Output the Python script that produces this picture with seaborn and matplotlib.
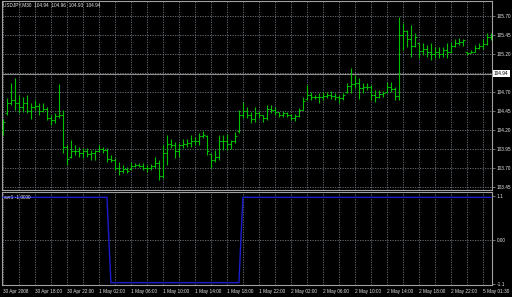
import numpy as np
import pandas as pd
import matplotlib
matplotlib.use("Agg")
import matplotlib.pyplot as plt
import seaborn as sns

# ---------------- data ----------------
highs = [104.35, 104.62, 104.82, 104.88, 104.66, 104.63, 104.66, 104.56, 104.60, 104.56,
         104.56, 104.50, 104.40, 104.42, 104.81, 104.46, 104.00, 104.07, 104.00, 103.98,
         103.96, 103.96, 103.94, 103.94, 104.00, 103.98, 103.96, 103.87, 103.83, 103.78,
         103.74, 103.71, 103.78, 103.77, 103.77, 103.77, 103.74, 103.75, 103.85, 103.81,
         104.00, 104.13, 104.08, 104.04, 104.03, 104.08, 104.08, 104.13, 104.11, 104.16,
         104.19, 104.13, 103.90, 103.94, 104.13, 104.13, 104.15, 104.07, 104.17, 104.46,
         104.57, 104.50, 104.44, 104.50, 104.45, 104.40, 104.53, 104.53, 104.50, 104.44,
         104.45, 104.44, 104.41, 104.41, 104.49, 104.63, 104.79, 104.70, 104.66, 104.69,
         104.70, 104.70, 104.71, 104.69, 104.66, 104.69, 104.82, 105.02, 104.92, 104.88,
         104.82, 104.82, 104.79, 104.73, 104.73, 104.71, 104.83, 104.83, 104.77, 105.69,
         105.61, 105.52, 105.58, 105.48, 105.35, 105.35, 105.32, 105.35, 105.29, 105.29,
         105.29, 105.35, 105.36, 105.40, 105.41, 105.40, 105.23, 105.25, 105.32, 105.35,
         105.40, 105.48, 105.48]
lows = [104.13, 104.40, 104.53, 104.46, 104.42, 104.44, 104.42, 104.35, 104.46, 104.40,
        104.44, 104.33, 104.27, 104.29, 104.36, 103.90, 103.74, 103.83, 103.87, 103.85,
        103.83, 103.85, 103.81, 103.81, 103.91, 103.90, 103.78, 103.78, 103.67, 103.61,
        103.63, 103.63, 103.67, 103.71, 103.71, 103.67, 103.65, 103.67, 103.70, 103.54,
        103.57, 103.74, 103.96, 103.83, 103.85, 103.96, 103.98, 103.98, 104.00, 104.00,
        104.10, 103.87, 103.70, 103.78, 103.81, 103.94, 103.94, 103.95, 104.03, 104.16,
        104.36, 104.36, 104.29, 104.31, 104.36, 104.31, 104.33, 104.42, 104.40, 104.37,
        104.37, 104.37, 104.33, 104.32, 104.37, 104.46, 104.60, 104.60, 104.61, 104.55,
        104.60, 104.62, 104.61, 104.60, 104.55, 104.60, 104.69, 104.69, 104.75, 104.61,
        104.69, 104.73, 104.60, 104.57, 104.62, 104.63, 104.69, 104.70, 104.60, 104.60,
        105.25, 105.29, 105.16, 105.29, 105.15, 105.19, 105.16, 105.12, 105.15, 105.15,
        105.16, 105.15, 105.21, 105.29, 105.32, 105.31, 105.19, 105.21, 105.23, 105.27,
        105.27, 105.32, 105.38]
opens = [104.20, 104.42, 104.55, 104.60, 104.55, 104.50, 104.55, 104.45, 104.50, 104.52,
         104.45, 104.48, 104.36, 104.33, 104.38, 104.40, 103.98, 103.84, 103.92, 103.92,
         103.90, 103.92, 103.88, 103.90, 103.92, 103.95, 103.93, 103.82, 103.80, 103.70,
         103.66, 103.68, 103.68, 103.72, 103.74, 103.73, 103.70, 103.70, 103.72, 103.76,
         103.60, 103.90, 104.02, 104.00, 103.92, 104.00, 104.02, 104.03, 104.05, 104.06,
         104.12, 104.12, 103.89, 103.80, 103.85, 104.05, 104.05, 104.02, 104.05, 104.18,
         104.40, 104.45, 104.40, 104.35, 104.42, 104.40, 104.36, 104.48, 104.46, 104.43,
         104.40, 104.42, 104.40, 104.36, 104.38, 104.46, 104.61, 104.66, 104.64, 104.63,
         104.64, 104.65, 104.66, 104.65, 104.63, 104.62, 104.70, 104.78, 104.80, 104.82,
         104.75, 104.76, 104.77, 104.66, 104.64, 104.67, 104.70, 104.76, 104.74, 104.65,
         105.45, 105.50, 105.40, 105.30, 105.34, 105.24, 105.26, 105.22, 105.20, 105.22,
         105.20, 105.25, 105.22, 105.30, 105.35, 105.36, 105.22, 105.21, 105.23, 105.28,
         105.30, 105.33, 105.42]
closes = [104.30, 104.55, 104.60, 104.55, 104.50, 104.55, 104.45, 104.50, 104.52, 104.45,
          104.48, 104.36, 104.33, 104.38, 104.40, 103.98, 103.82, 103.92, 103.92, 103.90,
          103.92, 103.88, 103.90, 103.92, 103.95, 103.93, 103.82, 103.80, 103.70, 103.66,
          103.68, 103.66, 103.72, 103.74, 103.73, 103.70, 103.70, 103.72, 103.76, 103.60,
          103.90, 104.02, 104.00, 103.92, 104.00, 104.02, 104.03, 104.05, 104.06, 104.12,
          104.14, 103.92, 103.80, 103.85, 104.05, 104.05, 104.02, 104.05, 104.12, 104.40,
          104.45, 104.40, 104.35, 104.42, 104.40, 104.36, 104.48, 104.46, 104.43, 104.40,
          104.42, 104.40, 104.36, 104.38, 104.46, 104.58, 104.66, 104.64, 104.63, 104.64,
          104.65, 104.66, 104.65, 104.63, 104.62, 104.66, 104.78, 104.80, 104.82, 104.75,
          104.76, 104.77, 104.66, 104.64, 104.67, 104.68, 104.76, 104.74, 104.65, 105.45,
          105.50, 105.40, 105.30, 105.42, 105.24, 105.26, 105.22, 105.20, 105.22, 105.20,
          105.25, 105.22, 105.30, 105.35, 105.36, 105.38, 105.21, 105.23, 105.28, 105.30,
          105.33, 105.42, 105.45]
indicator = [1, 1, 1, 1, 1, 1, 1, 1, 1, 1, 1, 1, 1, 1, 1, 1, 1, 1, 1, 1,
             1, 1, 1, 1, 1, 1, 1, -1, -1, -1, -1, -1, -1, -1, -1, -1, -1, -1, -1, -1,
             -1, -1, -1, -1, -1, -1, -1, -1, -1, -1, -1, -1, -1, -1, -1, -1, -1, -1, -1, -1,
             1, 1, 1, 1, 1, 1, 1, 1, 1, 1, 1, 1, 1, 1, 1, 1, 1, 1, 1, 1,
             1, 1, 1, 1, 1, 1, 1, 1, 1, 1, 1, 1, 1, 1, 1, 1, 1, 1, 1, 1,
             1, 1, 1, 1, 1, 1, 1, 1, 1, 1, 1, 1, 1, 1, 1, 1, 1, 1, 1, 1,
             1, 1, 1]

price_ticks = [105.70, 105.45, 105.20, 104.95, 104.70, 104.45, 104.20, 103.95, 103.70, 103.45]
price_tick_labels = ["105.70", "105.45", "105.20", "", "104.70", "104.45", "104.20",
                     "103.95", "103.70", "103.45"]
current_price = 104.94
header = "USDJPY,M30  104.94  104.96  104.93  104.94"
ind_label = "avr1 -1.0000"
ind_tick_labels = ["1.1", "0.00", "-1.1"]
x_label_bars = [0, 8, 16, 24, 32, 40, 48, 56, 64, 72, 80, 88, 96, 104, 112, 120]
x_labels = ["30 Apr 2008", "30 Apr 18:00", "30 Apr 22:00", "1 May 02:00", "1 May 06:00",
            "1 May 10:00", "1 May 14:00", "1 May 18:00", "1 May 22:00", "2 May 02:00",
            "2 May 06:00", "2 May 10:00", "2 May 14:00", "2 May 18:00", "2 May 22:00",
            "5 May 01:30"]

# ---------------- style ----------------
sns.set_theme(style="dark", rc={"axes.facecolor": "black", "figure.facecolor": "black"})
plt.rcParams["font.family"] = ["Liberation Sans", "DejaVu Sans"]

GREEN = "#00c000"
BLUE = "#1c1cd0"
GRID = "#6f7780"
FRAME = "#a0a0a0"
TXT = "#e8e8e8"
FS = 3.4

n = len(highs)
df = pd.DataFrame({"bar": np.arange(n), "high": highs, "low": lows,
                   "open": opens, "close": closes, "ind": indicator})

W, H = 512, 297
def rect(l, t, r, b):
    return [l / W, 1 - b / H, (r - l) / W, (b - t) / H]

fig = plt.figure(figsize=(W / 100, H / 100), dpi=100, facecolor="black")
ax = fig.add_axes(rect(2, 1, 492, 190))
ax2 = fig.add_axes(rect(2, 192, 492, 285))

xlo, xhi = -0.225, 122.275

# ---- main price panel ----
ax.vlines(df["bar"], df["low"], df["high"], color=GREEN, lw=0.8, zorder=3)
ax.hlines(df["open"], df["bar"] - 0.4, df["bar"], color=GREEN, lw=0.7, zorder=3)
ax.hlines(df["close"], df["bar"], df["bar"] + 0.4, color=GREEN, lw=0.7, zorder=3)
ax.axhline(current_price, color="#8c8c8c", lw=0.8, zorder=2)

ax.set_xlim(xlo, xhi)
ax.set_ylim(103.41, 105.897)
ax.set_xticks(range(0, n, 4))
ax.tick_params(axis="x", length=0, labelbottom=False)
ax.yaxis.tick_right()
ax.set_yticks(price_ticks)
ax.set_yticklabels(price_tick_labels)
ax.tick_params(axis="y", length=2, width=0.5, color=FRAME, labelsize=FS,
               labelcolor=TXT, pad=1.5)
ax.grid(True, color=GRID, ls=(0, (1.5, 1.5)), lw=0.6, zorder=1)
ax.set_xlabel("")
ax.set_ylabel("")
ax.text(1.004, current_price, "104.94", transform=ax.get_yaxis_transform(),
        fontsize=FS, color="black", va="center", ha="left",
        bbox=dict(facecolor="white", edgecolor="none", boxstyle="square,pad=0.25"))
ax.text(0.003, 0.978, header, transform=ax.transAxes, fontsize=FS, color=TXT,
        va="center", ha="left")

# ---- indicator panel ----
sns.lineplot(data=df, x="bar", y="ind", ax=ax2, color=BLUE, lw=1.0, zorder=3)
ax2.set_xlim(xlo, xhi)
ax2.set_ylim(-1.055, 1.125)
ax2.set_xticks(x_label_bars)
ax2.set_xticklabels(x_labels)
ax2.set_xticks(range(0, n, 4), minor=True)
ax2.tick_params(axis="x", which="major", length=2, width=0.5, color=FRAME,
                labelsize=FS, labelcolor=TXT, pad=1.0)
ax2.tick_params(axis="x", which="minor", length=0)
for lab in ax2.get_xticklabels():
    lab.set_horizontalalignment("left")
ax2.yaxis.tick_right()
ax2.set_yticks([1.03, 0.0, -1.02])
ax2.set_yticklabels(ind_tick_labels)
ax2.tick_params(axis="y", length=2, width=0.5, color=FRAME, labelsize=FS,
                labelcolor=TXT, pad=1.5)
ax2.xaxis.grid(True, which="both", color=GRID, ls=(0, (1.5, 1.5)), lw=0.6, zorder=1)
ax2.yaxis.grid(False)
ax2.axhline(0.0, color=GRID, ls=(0, (1.5, 1.5)), lw=0.6, zorder=1)
ax2.set_xlabel("")
ax2.set_ylabel("")
ax2.text(0.004, 0.946, ind_label, transform=ax2.transAxes, fontsize=FS, color=TXT,
         va="center", ha="left", zorder=5)

for a in (ax, ax2):
    for s in a.spines.values():
        s.set_visible(True)
        s.set_color(FRAME)
        s.set_linewidth(0.8)

fig.savefig("out.png", dpi=100, facecolor="black")
